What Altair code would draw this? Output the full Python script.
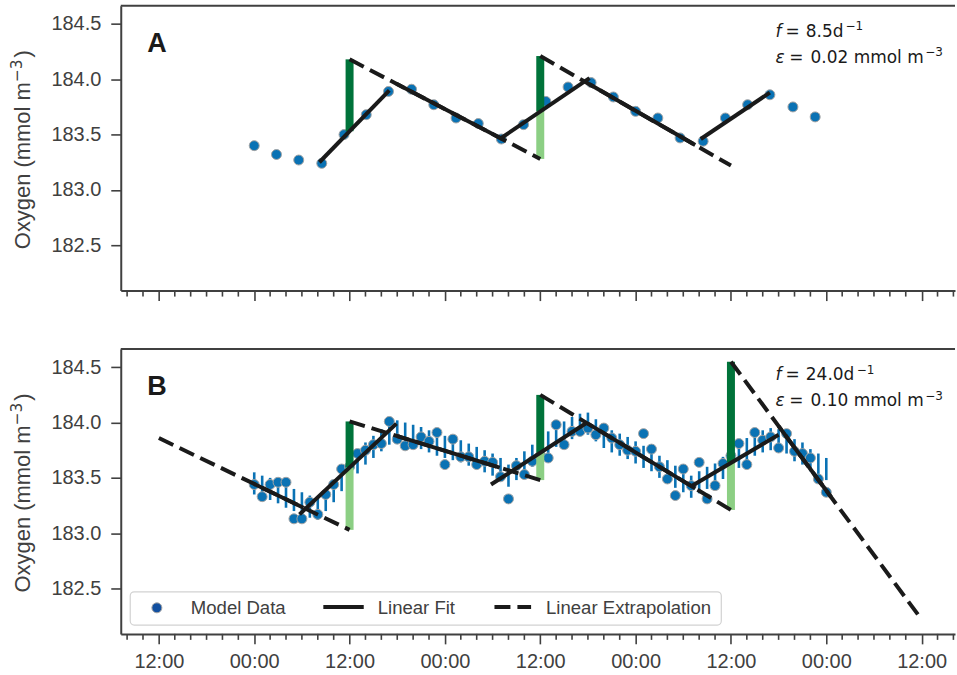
import altair as alt
import pandas as pd

# ---------------- panel A: 8.5 samples per day, noise 0.02 ----------------
a_hours = [0.0, 2.8, 5.6, 8.5, 11.3, 14.1, 16.9, 19.8, 22.6, 25.4, 28.2, 31.1,
           33.9, 36.7, 39.5, 42.4, 45.2, 48.0, 50.8, 53.6, 56.5, 59.3, 62.1,
           64.9, 67.8, 70.6]
a_oxygen = [183.40, 183.32, 183.27, 183.24, 183.50, 183.68, 183.89, 183.91,
            183.77, 183.65, 183.60, 183.46, 183.59, 183.80, 183.93, 183.97,
            183.84, 183.71, 183.65, 183.47, 183.44, 183.65, 183.77, 183.86,
            183.75, 183.66]

# day fits: (start h, start O2, end h, end O2)
a_day_fits = [(8.2, 183.25, 17.0, 183.90),
              (30.9, 183.46, 42.2, 184.01),
              (56.2, 183.46, 64.9, 183.88)]
# night fits: (noon before, O2 there, noon after, O2 there, fit start h, fit end h)
a_night_fits = [(12, 184.18, 36, 183.28, 17.9, 30.9),
                (36, 184.21, 60, 183.22, 42.2, 55.5)]
a_bar_noons = [12, 36]

# ---------------- panel B: hourly samples, noise 0.10 ----------------
b_hours = list(range(0, 73))
b_oxygen = [183.44, 183.33, 183.44, 183.46, 183.46, 183.13, 183.13, 183.28,
            183.17, 183.35, 183.44, 183.58, 183.60, 183.72, 183.75, 183.80,
            183.81, 184.01, 183.85, 183.79, 183.80, 183.87, 183.83, 183.91,
            183.62, 183.85, 183.69, 183.69, 183.62, 183.65, 183.64, 183.51,
            183.31, 183.61, 183.53, 183.65, 183.70, 183.68, 183.98, 183.80,
            183.92, 183.92, 183.95, 183.89, 183.95, 183.86, 183.80, 183.75,
            183.74, 183.90, 183.76, 183.60, 183.49, 183.34, 183.58, 183.43,
            183.64, 183.31, 183.43, 183.63, 183.70, 183.81, 183.62, 183.91,
            183.84, 183.87, 183.77, 183.90, 183.74, 183.72, 183.68, 183.49,
            183.37]
# noise-free signal: centre of each error bar
b_signal = [183.45, 183.42, 183.40, 183.37, 183.33, 183.30, 183.27, 183.24,
            183.22, 183.30, 183.38, 183.48, 183.56, 183.64, 183.72, 183.78,
            183.84, 183.90, 183.92, 183.90, 183.88, 183.86, 183.83, 183.80,
            183.78, 183.76, 183.74, 183.71, 183.68, 183.65, 183.62, 183.58,
            183.52, 183.58, 183.64, 183.70, 183.76, 183.82, 183.88, 183.91,
            183.95, 183.98, 183.99, 183.93, 183.87, 183.83, 183.80, 183.77,
            183.73, 183.69, 183.66, 183.60, 183.56, 183.51, 183.47, 183.42,
            183.46, 183.50, 183.53, 183.59, 183.64, 183.69, 183.76, 183.80,
            183.83, 183.85, 183.84, 183.82, 183.75, 183.72, 183.66, 183.62,
            183.58]
b_epsilon = 0.10

b_day_fits = [(5.7, 183.17, 17.9, 183.99),
              (29.8, 183.44, 41.9, 184.00),
              (54.9, 183.42, 66.0, 183.89)]
b_night_fits = [(-12, 183.86, 12, 183.03, 0.0, 6.2),
                (12, 184.01, 36, 183.48, 18.0, 30.9),
                (36, 184.25, 60, 183.21, 42.0, 55.5),
                (60, 184.55, 84, 182.22, 66.0, 72.6)]
b_bar_noons = [12, 36, 60]

major_hours = [-12, 0, 12, 24, 36, 48, 60, 72, 84]
minor_hours = [h for h in range(-16, 89, 2) if h % 12 != 0]

W, H = 836, 285.5
AXIS_GREY = "#404040"
LINE_BLACK = "#1a1a1a"
DOT_BLUE = "#0a72b4"
DARK_GREEN = "#00733a"
LIGHT_GREEN = "#8ccf84"

X_SCALE = alt.Scale(domain=[-16.8, 88.2], nice=False, zero=False)
Y_SCALE = alt.Scale(domain=[182.09, 184.665], nice=False, zero=False)


def x_axis(labels):
    return alt.Axis(values=major_hours, labels=labels, title=None, tickSize=10,
                    labelPadding=8,
                    labelExpr="datum.value % 24 == 0 ? '00:00' : '12:00'")


Y_AXIS = alt.Axis(values=[182.5, 183.0, 183.5, 184.0, 184.5], format=".1f",
                  title=None, tickSize=10, labelPadding=10)


def along(seg, h):
    h0, v0, h1, v1 = seg[:4]
    return v0 + (v1 - v0) * (h - h0) / (h1 - h0)


def fit_tables(day_fits, night_fits, noons):
    solid, dashed, bars = [], [], []
    for d in day_fits:
        solid.append(dict(h0=d[0], v0=d[1], h1=d[2], v1=d[3]))
    for n in night_fits:
        dashed.append(dict(h0=n[0], v0=n[1], h1=n[2], v1=n[3]))
        solid.append(dict(h0=n[4], v0=along(n, n[4]), h1=n[5], v1=along(n, n[5])))
    for noon in noons:
        day = next(d for d in day_fits if d[0] <= noon <= d[2])
        mid = along(day, noon)
        after = next(n for n in night_fits if n[0] == noon)
        bars.append(dict(h=noon, lo=mid, hi=after[1], part="after"))
        before = [n for n in night_fits if n[2] == noon]
        if before:
            bars.append(dict(h=noon, lo=before[0][3], hi=mid, part="before"))
    return pd.DataFrame(solid), pd.DataFrame(dashed), pd.DataFrame(bars)


def note(text, x, y, **style):
    return alt.Chart(pd.DataFrame({"s": [text]})).mark_text(
        align="left", baseline="alphabetic", **style
    ).encode(text="s:N", x=alt.value(x), y=alt.value(y))


def y_title():
    """Rotated axis title with a true superscript exponent."""
    base = dict(font="Liberation Sans", color=AXIS_GREY, angle=270)
    return [
        note("Oxygen (mmol m", -91, 244, fontSize=22, **base),
        note("−3", -99, 76.5, fontSize=15.4, **dict(base, font="DejaVu Sans")),
        note(")", -91, 52, fontSize=22, **base),
    ]


def panel(letter, hours, oxygen, day_fits, night_fits, noons, freq, eps,
          freq_sup_x, signal=None, show_labels=False, legend=False):
    xa = x_axis(show_labels)

    def X(f):
        return alt.X(f, type="quantitative", scale=X_SCALE, axis=xa)

    def Y(f):
        return alt.Y(f, type="quantitative", scale=Y_SCALE, axis=Y_AXIS)

    solid, dashed, bars = fit_tables(day_fits, night_fits, noons)
    layers = []

    if signal is not None:
        err = pd.DataFrame({"h": hours,
                            "lo": [s - eps for s in signal],
                            "hi": [s + eps for s in signal]})
        layers.append(alt.Chart(err).mark_rule(color=DOT_BLUE, strokeWidth=2.6)
                      .encode(x=X("h"), y=Y("lo"), y2="hi:Q"))

    pts = pd.DataFrame({"h": hours, "o2": oxygen})
    layers.append(alt.Chart(pts).mark_circle(size=100, color=DOT_BLUE, opacity=1,
                                             stroke="#a3a3a3", strokeWidth=1)
                  .encode(x=X("h"), y=Y("o2")))

    layers.append(alt.Chart(bars).mark_rule(strokeWidth=8, strokeCap="butt")
                  .encode(x=X("h"), y=Y("lo"), y2="hi:Q",
                          color=alt.Color("part:N", legend=None,
                                          scale=alt.Scale(domain=["after", "before"],
                                                          range=[DARK_GREEN, LIGHT_GREEN]))))

    layers.append(alt.Chart(dashed).mark_rule(color=LINE_BLACK, strokeWidth=4,
                                              strokeDash=[16, 7], strokeCap="butt")
                  .encode(x=X("h0"), y=Y("v0"), x2="h1:Q", y2="v1:Q"))
    layers.append(alt.Chart(solid).mark_rule(color=LINE_BLACK, strokeWidth=4,
                                             strokeCap="butt")
                  .encode(x=X("h0"), y=Y("v0"), x2="h1:Q", y2="v1:Q"))

    # minor ticks every two hours and the top spine
    layers.append(alt.Chart(pd.DataFrame({"h": minor_hours}))
                  .mark_rule(color=AXIS_GREY, strokeWidth=1.6)
                  .encode(x=X("h"), y=alt.value(H), y2=alt.value(H + 6)))
    layers.append(alt.Chart(pd.DataFrame({"s": [0]}))
                  .mark_rule(color=AXIS_GREY, strokeWidth=2)
                  .encode(x=alt.value(0), x2=alt.value(W), y=alt.value(0)))

    layers += y_title()

    layers.append(note(letter, 26.5, 46, fontSize=27, fontWeight="bold",
                       font="Liberation Sans", color=LINE_BLACK))
    math = dict(fontSize=17, font="DejaVu Sans", color=LINE_BLACK)
    sup = dict(fontSize=12, font="DejaVu Sans", color=LINE_BLACK)
    layers.append(note("f", 656.2, 31.3, fontStyle="italic", **math))
    layers.append(note("=", 666.1, 31.3, **math))
    layers.append(note(f"{freq}d", 686.5, 31.3, **math))
    layers.append(note("−1", freq_sup_x, 24.8, **sup))
    layers.append(note("ε", 656.2, 57.3, fontStyle="italic", **math))
    layers.append(note("=", 669.8, 57.3, **math))
    layers.append(note(f"{eps:.2f} mmol m", 691.2, 57.3, **math))
    layers.append(note("−3", 806.2, 50.8, **sup))

    if legend:
        layers.append(alt.Chart(pd.DataFrame({"s": [0]}))
                      .mark_rect(fill="white", stroke="#d2d2d2", strokeWidth=1.2,
                                 cornerRadius=4)
                      .encode(x=alt.value(9.5), x2=alt.value(601.8),
                              y=alt.value(243.4), y2=alt.value(276.7)))
        layers.append(alt.Chart(pd.DataFrame({"s": [0]}))
                      .mark_circle(size=100, color="#1250a0", opacity=1,
                                   stroke="#a3a3a3", strokeWidth=1)
                      .encode(x=alt.value(36.2), y=alt.value(259.4)))
        layers.append(alt.Chart(pd.DataFrame({"s": [0]}))
                      .mark_rule(color=LINE_BLACK, strokeWidth=4)
                      .encode(x=alt.value(203), x2=alt.value(243.5), y=alt.value(258.6)))
        layers.append(alt.Chart(pd.DataFrame({"s": [0]}))
                      .mark_rule(color=LINE_BLACK, strokeWidth=4, strokeDash=[16, 7])
                      .encode(x=alt.value(374.5), x2=alt.value(411.2), y=alt.value(258.6)))
        lg = dict(fontSize=18.6, font="Liberation Sans", color=AXIS_GREY)
        layers.append(note("Model Data", 70.2, 265.2, **lg))
        layers.append(note("Linear Fit", 257.5, 265.2, **lg))
        layers.append(note("Linear Extrapolation", 426.2, 265.2, **lg))

    return alt.layer(*layers).properties(width=W, height=H)


top = panel("A", a_hours, a_oxygen, a_day_fits, a_night_fits, a_bar_noons,
            8.5, 0.02, freq_sup_x=726.2)
bottom = panel("B", b_hours, b_oxygen, b_day_fits, b_night_fits, b_bar_noons,
               24.0, b_epsilon, freq_sup_x=737.5, signal=b_signal,
               show_labels=True, legend=True)

chart = alt.vconcat(top, bottom, spacing=45).properties(
    padding={"left": 9, "top": 3, "right": 0, "bottom": 0}
).configure_axis(
    labelFont="Liberation Sans", labelFontSize=20, labelColor=AXIS_GREY,
    domainColor=AXIS_GREY, domainWidth=2,
    tickColor=AXIS_GREY, tickWidth=1.6, grid=False
).configure_view(stroke="transparent")

chart.save("out.html", embed_options={"renderer": "svg", "actions": False})
